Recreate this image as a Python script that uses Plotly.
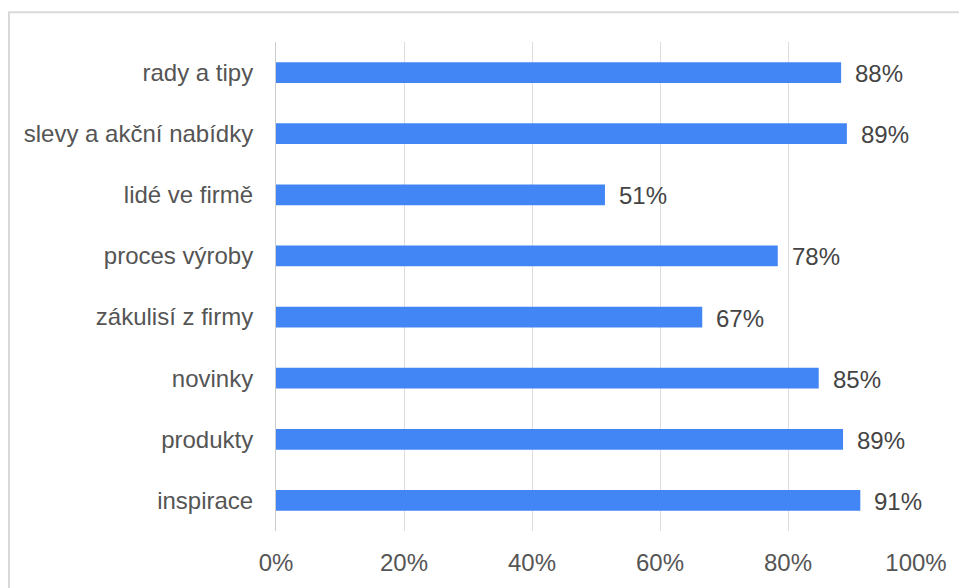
import plotly.graph_objects as go

categories = ["rady a tipy", "slevy a akční nabídky", "lidé ve firmě", "proces výroby",
              "zákulisí z firmy", "novinky", "produkty", "inspirace"]
values = [88.3, 89.2, 51.4, 78.4, 66.6, 84.8, 88.6, 91.3]
value_labels = ["88%", "89%", "51%", "78%", "67%", "85%", "89%", "91%"]
tick_vals = [0, 20, 40, 60, 80, 100]
tick_text = ["0%", "20%", "40%", "60%", "80%", "100%"]

FONT = "Liberation Sans, Arial, sans-serif"
TXT = "#555555"
FS = 24

fig = go.Figure()
fig.add_trace(go.Bar(
    x=values, y=categories, orientation="h",
    marker=dict(color="#4285F4", line=dict(width=0)),
    hoverinfo="skip",
))

for v, c, lab in zip(values, categories, value_labels):
    fig.add_annotation(x=v, y=c, text=lab, showarrow=False, xanchor="left",
                       xshift=12, yshift=-1, font=dict(family=FONT, size=FS, color="#444444"))

# page body has an 8px margin; figure sized to fit the window
OFF = 8
W, H = 967 - OFF, 588 - OFF
L, T = 276 - OFF, 42 - OFF
R = W - (916 - OFF)
B = H - (536 - OFF)
pw, ph = W - L - R, H - T - B

def px(x):
    return (x - OFF - L) / pw

def py(y):
    return (H - B - (y - OFF)) / ph

fig.add_shape(type="rect", xref="paper", yref="paper",
              x0=px(9), x1=px(1000), y0=py(620), y1=py(12),
              line=dict(color="#d9d9d9", width=2), fillcolor="rgba(0,0,0,0)", layer="below")

fig.update_layout(
    width=W, height=H,
    margin=dict(l=L, r=R, t=T, b=B, pad=0),
    paper_bgcolor="white", plot_bgcolor="white",
    bargap=0.66, showlegend=False,
    font=dict(family=FONT, size=FS, color=TXT),
    xaxis=dict(range=[0, 100], tickvals=tick_vals, ticktext=tick_text,
               showgrid=True, gridcolor="#dddddd", gridwidth=1,
               zeroline=False, showline=False, ticks="",
               ticklabelstandoff=15, tickfont=dict(size=FS, color=TXT)),
    yaxis=dict(categoryorder="array", categoryarray=categories, autorange="reversed",
               showgrid=False, zeroline=False, showline=True, linecolor="#cccccc",
               linewidth=1, ticks="", ticklabelstandoff=17,
               tickfont=dict(size=FS, color=TXT)),
)

fig.write_html("out.html")
